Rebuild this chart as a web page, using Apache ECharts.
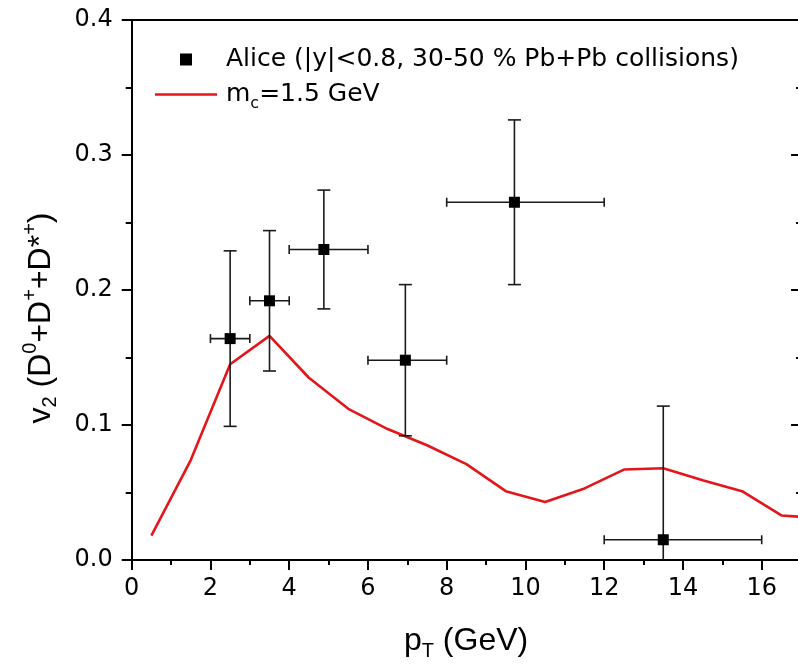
<!DOCTYPE html>
<html>
<head>
<meta charset="utf-8">
<script src="https://cdn.jsdelivr.net/npm/echarts@6/dist/echarts.min.js"></script>
<style>
html,body{margin:0;padding:0;background:#fff;}
#chart{width:798px;height:665px;}
</style>
</head>
<body>
<div id="chart"></div>
<script>
// ---- data ----
var aliceName = 'Alice (|y|<0.8, 30-50 % Pb+Pb collisions)';
var aliceX     = [2.5, 3.5, 4.88, 6.95, 9.72, 13.5];
var aliceY     = [0.164, 0.192, 0.230, 0.148, 0.265, 0.015];
var aliceYLow  = [0.099, 0.140, 0.186, 0.092, 0.204, -0.084];
var aliceYHigh = [0.229, 0.244, 0.274, 0.204, 0.326, 0.114];
var aliceXLow  = [2, 3, 4, 6, 8, 12];
var aliceXHigh = [3, 4, 6, 8, 12, 16];

var modelName = 'mc=1.5 GeV';
var modelX = [0.5, 1.5, 2.5, 3.5, 4.5, 5.5, 6.5, 7.5, 8.5, 9.5, 10.5, 11.5, 12.5, 13.5, 14.5, 15.5, 16.5, 17];
var modelY = [0.018, 0.074, 0.145, 0.166, 0.135, 0.112, 0.097, 0.085, 0.071, 0.051, 0.043, 0.053, 0.067, 0.068, 0.059, 0.051, 0.033, 0.032];

var xTicks = [0, 2, 4, 6, 8, 10, 12, 14, 16];
var yTicks = [0.0, 0.1, 0.2, 0.3, 0.4];

// ---- build ----
var chart = echarts.init(document.getElementById('chart'), null, {renderer: 'canvas'});

var unitPx = 39.375;
var gridLeft = 131.7;
var xMaxAxis = 18;     // plotted range extends beyond the visible window
var xFrame = 17;       // right frame of the original plot

var errData = aliceX.map(function (x, i) {
  return [x, aliceY[i], aliceYLow[i], aliceYHigh[i], aliceXLow[i], aliceXHigh[i]];
});
var scatterData = aliceX.map(function (x, i) { return [x, aliceY[i]]; });
var lineData = modelX.map(function (x, i) { return [x, modelY[i]]; });

var tickFont = 'DejaVu Sans';
var titleFont = 'Liberation Sans';
var black = '#000';
var red = '#e3161b';

var option = {
  animation: false,
  backgroundColor: '#fff',
  grid: {left: gridLeft, top: 20, width: unitPx * xMaxAxis, height: 540, containLabel: false, outerBoundsMode: 'none'},
  legend: {
    left: 155, top: 42, orient: 'vertical', padding: 0,
    itemWidth: 62, itemHeight: 12, itemGap: 0, symbolKeepAspect: true,
    data: [
      {name: aliceName, icon: 'path://M0 0L10 0L10 10L0 10Z', itemStyle: {opacity: 1}},
      {name: modelName, icon: 'path://M0 0L62 0L62 2.5L0 2.5Z'}
    ],
    formatter: function (name) {
      if (name === modelName) return '{n|m}{s|c}{n|=1.5 GeV}';
      return '{n|' + name + '}';
    },
    textStyle: {
      fontFamily: tickFont, fontSize: 25, color: black, lineHeight: 35, padding: [0, 0, 0, 4],
      rich: {
        n: {fontFamily: tickFont, fontSize: 25, color: black, lineHeight: 35},
        s: {fontFamily: tickFont, fontSize: 16, color: black, lineHeight: 13, verticalAlign: 'bottom'}
      }
    }
  },
  xAxis: [{
    type: 'value', position: 'bottom', min: 0, max: xMaxAxis, interval: 2,
    axisLine: {show: true, onZero: false, lineStyle: {color: black, width: 2}},
    axisTick: {show: true, inside: false, length: 10, lineStyle: {color: black, width: 2}},
    minorTick: {show: true, splitNumber: 2, length: 5, lineStyle: {color: black, width: 2}},
    splitLine: {show: false},
    axisLabel: {
      fontFamily: tickFont, fontSize: 24, color: black, margin: 17,
      formatter: function (v) { return xTicks.indexOf(v) >= 0 ? String(v) : ''; }
    },
    name: '{n|p}{sub|T}{n| (GeV)}',
    nameLocation: 'middle', nameGap: 61,
    nameTextStyle: {
      padding: [0, 40, 0, 0],
      rich: {
        n: {fontFamily: titleFont, fontSize: 32, color: black, lineHeight: 40},
        sub: {fontFamily: titleFont, fontSize: 20, color: black, lineHeight: 22, verticalAlign: 'bottom'}
      }
    }
  }, {
    type: 'value', position: 'top', min: 0, max: xMaxAxis,
    axisLine: {show: true, onZero: false, lineStyle: {color: black, width: 2}},
    axisTick: {show: false}, axisLabel: {show: false}, splitLine: {show: false}
  }],
  yAxis: [{
    type: 'value', position: 'left', min: 0, max: 0.4, interval: 0.1,
    axisLine: {show: true, onZero: false, lineStyle: {color: black, width: 2}},
    axisTick: {show: true, inside: false, length: 10, lineStyle: {color: black, width: 2}},
    minorTick: {show: true, splitNumber: 2, length: 6, lineStyle: {color: black, width: 2}},
    splitLine: {show: false},
    axisLabel: {
      fontFamily: tickFont, fontSize: 24, color: black, margin: 19,
      formatter: function (v) { return v.toFixed(1); }
    },
    name: '{n|v}{sub|2}{n| (D}{sup|0}{n|+D}{sup|+}{n|+D*}{sup|+}{n|)}',
    nameLocation: 'middle', nameGap: 71, nameRotate: 90,
    nameTextStyle: {
      padding: [0, 56, 0, 0],
      rich: {
        n: {fontFamily: titleFont, fontSize: 32, color: black, lineHeight: 40},
        sub: {fontFamily: titleFont, fontSize: 20, color: black, lineHeight: 22, verticalAlign: 'bottom'},
        sup: {fontFamily: titleFont, fontSize: 20, color: black, lineHeight: 24, verticalAlign: 'top'}
      }
    }
  }, {
    type: 'value', position: 'right', min: 0, max: 0.4, interval: 0.1,
    offset: -(xMaxAxis - xFrame) * unitPx,
    axisLine: {show: true, onZero: false, lineStyle: {color: black, width: 2}},
    axisTick: {show: true, inside: true, length: 10, lineStyle: {color: black, width: 2}},
    minorTick: {show: true, splitNumber: 2, length: 5, lineStyle: {color: black, width: 2}},
    splitLine: {show: false}, axisLabel: {show: false}
  }],
  series: [{
    name: modelName, type: 'line', data: lineData, xAxisIndex: 0, yAxisIndex: 0,
    symbol: 'none', showSymbol: false, smooth: false, clip: true,
    lineStyle: {color: red, width: 2.6}, itemStyle: {color: red}, z: 3
  }, {
    name: 'errors', type: 'custom', data: errData, xAxisIndex: 0, yAxisIndex: 0, clip: true, z: 4,
    renderItem: function (params, api) {
      var x = api.value(0), y = api.value(1);
      var pLow = api.coord([x, api.value(2)]);
      var pHigh = api.coord([x, api.value(3)]);
      var qLow = api.coord([api.value(4), y]);
      var qHigh = api.coord([api.value(5), y]);
      var capW = 6.5, capH = 4.5;
      var st = {stroke: '#1a1a1a', lineWidth: 1.6, fill: null};
      function seg(x1, y1, x2, y2) {
        return {type: 'line', shape: {x1: x1, y1: y1, x2: x2, y2: y2}, style: st};
      }
      return {
        type: 'group',
        children: [
          seg(pLow[0], pLow[1], pHigh[0], pHigh[1]),
          seg(pHigh[0] - capW, pHigh[1], pHigh[0] + capW, pHigh[1]),
          seg(pLow[0] - capW, pLow[1], pLow[0] + capW, pLow[1]),
          seg(qLow[0], qLow[1], qHigh[0], qHigh[1]),
          seg(qLow[0], qLow[1] - capH, qLow[0], qLow[1] + capH),
          seg(qHigh[0], qHigh[1] - capH, qHigh[0], qHigh[1] + capH)
        ]
      };
    }
  }, {
    name: aliceName, type: 'scatter', data: scatterData, xAxisIndex: 0, yAxisIndex: 0,
    symbol: 'rect', symbolSize: 11, itemStyle: {color: '#000', opacity: 1}, z: 5
  }]
};
chart.setOption(option);
</script>
</body>
</html>
